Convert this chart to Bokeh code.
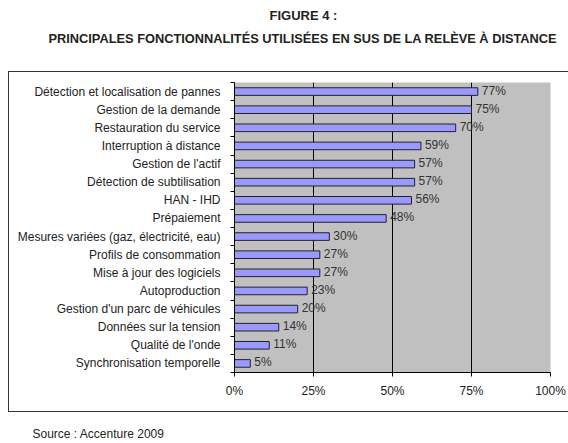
from bokeh.plotting import figure
from bokeh.models import Range1d, FixedTicker, ColumnDataSource, Title, LinearAxis
from bokeh.core.properties import value
from bokeh.embed import file_html
from bokeh.resources import INLINE

categories = [
    "Détection et localisation de pannes",
    "Gestion de la demande",
    "Restauration du service",
    "Interruption à distance",
    "Gestion de l'actif",
    "Détection de subtilisation",
    "HAN - IHD",
    "Prépaiement",
    "Mesures variées (gaz, électricité, eau)",
    "Profils de consommation",
    "Mise à jour des logiciels",
    "Autoproduction",
    "Gestion d'un parc de véhicules",
    "Données sur la tension",
    "Qualité de l'onde",
    "Synchronisation temporelle",
]
values = [77, 75, 70, 59, 57, 57, 56, 48, 30, 27, 27, 23, 20, 14, 11, 5]
x_ticks = [0, 25, 50, 75, 100]
x_tick_labels = ["0%", "25%", "50%", "75%", "100%"]
title_line1 = "FIGURE 4 :"
title_line2 = "PRINCIPALES FONCTIONNALITÉS UTILISÉES EN SUS DE LA RELÈVE À DISTANCE"
source_text = "Source : Accenture 2009"

FONT = "Liberation Sans"
W, H = 568, 443
LEFT, TOP, RIGHT, BOTTOM = 234, 81, 18, 71

pos = list(range(len(categories)))
src = ColumnDataSource(dict(
    y=pos,
    v=values,
    lab=[f"{v}%" for v in values],
))

box_css = """
:host { position: relative; }
:host::after {
  content: "";
  position: absolute;
  left: 8px; top: 71px; width: 570px; height: 341px;
  border: 1.5px solid #333333;
  box-sizing: border-box;
  pointer-events: none;
}
"""

p = figure(
    width=W, height=H, output_backend="svg", toolbar_location=None,
    x_range=Range1d(0, 100), y_range=Range1d(len(categories) - 0.5, -0.5),
    min_border_left=LEFT, min_border_right=RIGHT, min_border_top=TOP, min_border_bottom=BOTTOM,
    background_fill_color="#C0C0C0", border_fill_color="white",
    outline_line_color=None, stylesheets=[box_css],
)

# axes
p.xaxis.ticker = FixedTicker(ticks=x_ticks)
p.xaxis.major_label_overrides = {t: l for t, l in zip(x_ticks, x_tick_labels)}
p.xaxis.major_tick_out = 4
p.xaxis.major_tick_in = 0
p.xaxis.minor_tick_out = 0
p.xaxis.minor_tick_in = 0
p.xaxis.major_label_standoff = 7

p.yaxis.ticker = FixedTicker(ticks=pos, minor_ticks=[i - 0.5 for i in range(len(categories) + 1)])
p.yaxis.major_label_overrides = {i: c for i, c in zip(pos, categories)}
p.yaxis.major_tick_out = 0
p.yaxis.major_tick_in = 0
p.yaxis.minor_tick_out = 4
p.yaxis.minor_tick_in = 0
p.yaxis.major_label_standoff = 10

for ax in (p.xaxis, p.yaxis):
    ax.axis_line_color = "black"
    ax.axis_line_width = 1
    ax.major_tick_line_color = "black"
    ax.minor_tick_line_color = "black"
    ax.major_label_text_font = FONT
    ax.major_label_text_font_size = "12px"
    ax.major_label_text_color = "#222222"

p.xgrid.ticker = FixedTicker(ticks=[25, 50, 75])
p.xgrid.grid_line_color = "black"
p.xgrid.grid_line_width = 1
p.ygrid.visible = False

p.hbar(y="y", left=0, right="v", height=0.42, source=src,
       fill_color="#9999FF", line_color="#222222", line_width=1)
p.text(x="v", y="y", text="lab", source=src, x_offset=4, y_offset=-1,
       text_baseline="middle", text_font=value(FONT), text_font_size="12px",
       text_color="#333333")


def spacer(size):
    # an invisible axis that only reserves vertical space in the margin
    return LinearAxis(ticker=FixedTicker(ticks=[100]), major_label_overrides={100: ""},
                      major_tick_out=size, major_tick_in=0,
                      minor_tick_out=0, minor_tick_in=0, axis_line_color=None,
                      major_tick_line_color="white", minor_tick_line_color=None,
                      major_label_standoff=0, major_label_text_font_size="1px")


# titles above: closest first
p.add_layout(spacer(37), "above")
p.add_layout(Title(text=title_line2, align="left", offset=48 - LEFT, text_font=FONT,
                   text_font_size="12.8px", text_font_style="bold", text_color="#222222",
                   standoff=0), "above")
p.add_layout(Title(text=title_line1, align="left", offset=269 - LEFT, text_font=FONT,
                   text_font_size="13px", text_font_style="bold", text_color="#222222",
                   standoff=11), "above")

# source below
p.add_layout(spacer(26), "below")
p.add_layout(Title(text=source_text, align="left", offset=32 - LEFT, vertical_align="top",
                   text_font=FONT, text_font_size="12px", text_color="#222222",
                   text_font_style="normal", standoff=0), "below")

open("out.html", "w").write(file_html(p, INLINE))
